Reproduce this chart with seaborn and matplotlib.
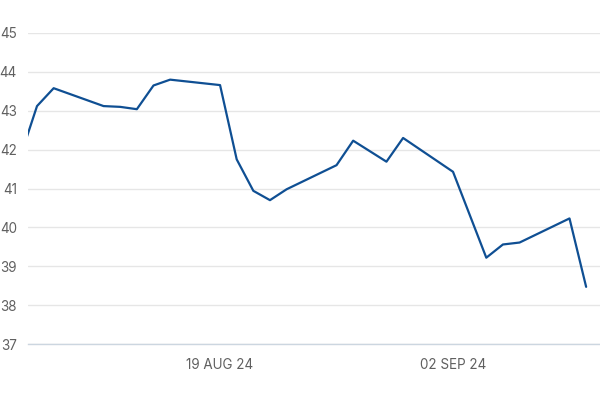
import matplotlib
matplotlib.use("Agg")
import matplotlib.pyplot as plt
import matplotlib.dates as mdates
import seaborn as sns
import pandas as pd

dates = ["2024-08-07", "2024-08-08", "2024-08-09", "2024-08-12", "2024-08-13",
         "2024-08-14", "2024-08-15", "2024-08-16", "2024-08-19", "2024-08-20",
         "2024-08-21", "2024-08-22", "2024-08-23", "2024-08-26", "2024-08-27",
         "2024-08-29", "2024-08-30", "2024-09-02", "2024-09-04", "2024-09-05",
         "2024-09-06", "2024-09-09", "2024-09-10"]
values = [41.82, 43.12, 43.58, 43.12, 43.10,
          43.04, 43.65, 43.80, 43.66, 41.75,
          40.94, 40.70, 40.98, 41.60, 42.23,
          41.69, 42.30, 41.43, 39.22, 39.56,
          39.61, 40.23, 38.47]
tick_dates = ["2024-08-19", "2024-09-02"]
tick_labels = ["19 AUG 24", "02 SEP 24"]
y_ticks = [37, 38, 39, 40, 41, 42, 43, 44, 45]

df = pd.DataFrame({"date": pd.to_datetime(dates), "value": values})

sns.set_style("white")
plt.rcParams["font.family"] = ["Inter", "DejaVu Sans"]

fig = plt.figure(figsize=(6, 4), dpi=100)
ax = fig.add_axes([28 / 600, 56 / 400, 1 - 28 / 600, (344 - 33) / 400])

sns.lineplot(data=df, x="date", y="value", ax=ax, color="#0f4f93", linewidth=1.6)

x0 = pd.Timestamp("2024-08-07") + pd.Timedelta(hours=11)
x1 = pd.Timestamp("2024-09-10") + pd.Timedelta(hours=20)
ax.set_xlim(x0, x1)
ax.set_ylim(37, 45)

ax.set_yticks(y_ticks)
ax.set_yticklabels([str(v) for v in y_ticks])
ax.set_xticks(pd.to_datetime(tick_dates))
ax.set_xticklabels(tick_labels)

ax.grid(axis="y", color="#e6e6e6", linewidth=1)
ax.grid(axis="x", visible=False)
for s in ["top", "right", "left"]:
    ax.spines[s].set_visible(False)
ax.spines["bottom"].set_color("#ccd6e0")
ax.spines["bottom"].set_linewidth(1)

ax.tick_params(axis="y", length=0, pad=8, labelsize=9.7, labelcolor="#606060")
ax.tick_params(axis="x", length=6, width=0.8, color="#ccd6e0", pad=4,
               labelsize=9.7, labelcolor="#606060")
ax.set_xlabel("")
ax.set_ylabel("")

fig.savefig("out.png", dpi=100)
